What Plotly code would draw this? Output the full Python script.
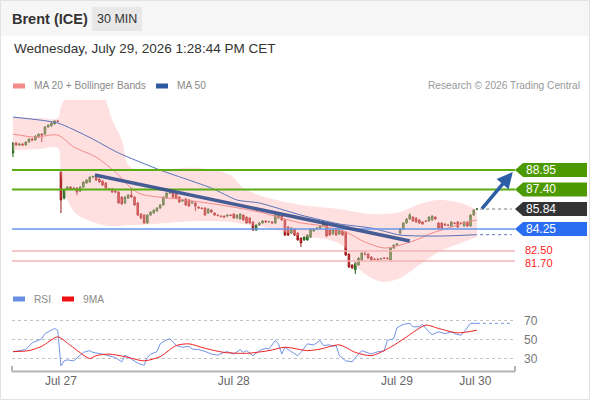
import plotly.graph_objects as go

FONT = "Arial, Liberation Sans, Helvetica, sans-serif"

# --- candles (30 min), index = bar number ---
opens = [90.29, 91.09, 90.93, 91.01, 90.93, 91.17, 91.41, 91.33, 91.56, 91.80, 91.80, 92.36, 92.44, 92.60, 92.84,
         88.78, 86.71, 87.43, 87.59, 87.51, 87.51, 87.27, 87.59, 87.91, 87.99, 88.38, 88.38, 88.22, 88.07, 87.91,
         87.43, 87.43, 87.27, 87.19, 86.79, 86.32, 86.71, 86.95, 86.79, 86.32, 85.44, 85.36, 84.73, 85.36, 85.52,
         85.68, 85.92, 86.16, 86.71, 87.11, 87.11, 87.03, 86.79, 86.48, 86.64, 86.56, 86.32, 86.32, 86.00, 85.92,
         85.92, 85.52, 85.76, 85.52, 85.36, 85.28, 85.28, 85.28, 85.36, 85.44, 85.12, 85.05, 85.36, 85.20, 85.12,
         84.81, 84.17, 84.57, 84.73, 84.89, 84.81, 84.81, 84.73, 85.12, 85.28, 84.97, 84.41, 83.93, 84.25, 83.93,
         83.53, 83.38, 83.38, 83.61, 84.09, 84.25, 84.33, 84.49, 84.65, 84.17, 83.85, 84.25, 83.85, 84.09,
         84.01, 82.26, 81.39, 81.02, 81.39, 81.79, 82.26, 82.26, 82.02, 81.86, 81.86, 81.86, 81.94, 81.94, 81.79,
         82.74, 82.98,
         83.93, 84.25, 84.73, 85.05, 85.20, 85.12, 84.97, 84.81, 84.89, 84.89, 84.97, 85.20, 84.73, 84.73, 84.65,
         84.57, 84.49, 84.73, 84.81, 84.73, 84.49, 84.81, 84.49, 85.36, 85.84]
highs = [91.15, 91.15, 91.08, 91.10, 91.22, 91.45, 91.48, 91.70, 91.86, 91.88, 92.42, 92.58, 92.74, 92.90, 92.92,
         88.86, 87.41, 87.66, 87.66, 87.58, 87.57, 87.65, 88.05, 88.22, 88.45, 88.50, 88.45, 88.28, 88.12, 87.98,
         87.52, 87.50, 87.34, 87.25, 86.86, 86.86, 87.02, 87.51, 86.85, 86.40, 85.50, 85.42, 85.42, 85.66, 85.82,
         85.98, 86.22, 86.86, 87.18, 87.22, 87.18, 87.10, 86.86, 86.62, 86.70, 86.62, 86.46, 86.38, 86.06, 85.98,
         85.98, 85.90, 85.82, 85.58, 85.42, 85.34, 85.34, 85.42, 85.42, 85.50, 85.42, 85.50, 85.42, 85.26, 85.18,
         84.87, 84.63, 84.79, 84.95, 84.95, 84.90, 84.88, 85.42, 85.44, 85.34, 85.03, 84.47, 84.39, 84.31, 83.99,
         83.59, 83.67, 83.83, 84.31, 84.31, 84.39, 84.55, 84.87, 84.71, 84.23, 84.23, 84.31, 84.23, 84.15,
         84.07, 82.32, 81.45, 81.61, 82.00, 82.40, 82.50, 82.32, 82.08, 81.92, 81.92, 81.96, 82.00, 82.00, 82.80,
         83.04, 83.14,
         84.31, 84.79, 85.11, 85.52, 85.26, 85.18, 85.03, 84.87, 84.95, 85.26, 85.34, 85.26, 84.79, 84.79, 84.71,
         84.63, 84.87, 84.79, 84.87, 84.79, 84.87, 84.87, 85.42, 85.82, 85.90]
lows = [89.97, 90.88, 90.85, 90.85, 90.88, 91.10, 91.25, 91.28, 91.50, 91.17, 91.74, 92.30, 92.40, 92.55, 92.74,
        85.52, 86.60, 87.38, 87.36, 87.42, 86.95, 87.20, 87.52, 87.85, 87.93, 88.30, 88.08, 87.92, 87.68, 87.45,
        87.32, 87.12, 87.10, 86.25, 86.18, 86.26, 86.64, 86.72, 86.10, 85.30, 85.05, 84.66, 84.66, 85.30, 85.46,
        85.62, 85.86, 86.10, 86.65, 87.04, 86.72, 86.64, 86.33, 86.42, 86.10, 86.02, 86.26, 85.68, 85.86, 85.82,
        85.30, 85.46, 85.54, 85.30, 85.26, 85.18, 85.14, 85.22, 85.27, 85.06, 85.06, 84.99, 84.91, 84.67, 84.67,
        84.11, 84.10, 84.51, 84.67, 84.75, 84.75, 84.67, 84.67, 85.06, 84.91, 83.71, 83.71, 83.87, 83.71, 83.32,
        82.82, 83.32, 83.32, 83.55, 84.03, 84.19, 84.27, 84.43, 83.63, 83.71, 83.79, 83.71, 83.79, 83.71,
        82.12, 81.17, 81.09, 80.67, 81.33, 81.73, 82.18, 81.88, 81.73, 81.78, 81.76, 81.80, 81.86, 81.84, 81.73,
        82.68, 82.92,
        83.77, 84.19, 84.67, 84.99, 84.83, 84.75, 84.67, 84.59, 84.80, 84.83, 84.91, 84.99, 84.27, 84.27, 84.51,
        84.48, 84.43, 84.64, 84.35, 84.64, 84.43, 84.43, 84.43, 85.30, 85.78]
closes = [91.09, 90.93, 91.01, 90.93, 91.17, 91.41, 91.33, 91.64, 91.80, 91.72, 92.36, 92.52, 92.68, 92.84, 92.80,
          86.56, 87.35, 87.59, 87.43, 87.48, 87.19, 87.59, 87.99, 88.15, 88.38, 88.42, 88.15, 87.99, 87.75, 87.51,
          87.40, 87.19, 87.19, 86.32, 86.24, 86.79, 86.95, 86.79, 86.16, 85.36, 85.12, 84.73, 85.36, 85.60, 85.76,
          85.92, 86.16, 86.79, 87.11, 87.14, 86.79, 86.71, 86.40, 86.56, 86.16, 86.08, 86.40, 86.08, 85.92, 85.88,
          85.36, 85.84, 85.60, 85.36, 85.32, 85.24, 85.20, 85.36, 85.33, 85.12, 85.36, 85.44, 84.97, 84.73, 84.73,
          84.17, 84.57, 84.73, 84.89, 84.81, 84.84, 84.73, 85.36, 85.36, 84.97, 83.77, 83.77, 84.33, 83.77, 83.38,
          83.14, 83.61, 83.77, 84.25, 84.25, 84.33, 84.49, 84.81, 83.69, 83.77, 84.17, 83.77, 84.17, 83.77,
          82.18, 81.23, 81.15, 81.55, 81.94, 82.34, 82.23, 81.94, 81.79, 81.84, 81.82, 81.90, 81.92, 81.90, 82.74,
          82.98, 83.06,
          84.25, 84.73, 85.05, 85.36, 84.89, 84.81, 84.73, 84.65, 84.86, 85.20, 85.28, 85.05, 84.33, 84.33, 84.57,
          84.54, 84.81, 84.70, 84.41, 84.70, 84.81, 84.49, 85.36, 85.76, 85.84]
bar_idx = list(range(len(closes)))

# --- MA 20 + Bollinger bands, MA 50 (read at sample bars) ---
ma20_idx = [0, 7, 14, 19, 26, 32, 37, 40, 54, 65, 77, 90, 95, 104, 110, 116, 120, 126, 131, 136, 141, 145]
ma20 = [91.80, 91.56, 91.72, 90.77, 89.97, 88.78, 87.51, 87.03, 86.56, 86.16, 85.60, 84.73, 84.57, 84.01,
        83.22, 82.74, 82.90, 83.38, 83.93, 84.33, 84.73, 84.97]
bb_idx = [0, 8, 14, 15, 17, 20, 28, 31, 34, 36, 39, 58, 68, 72, 80, 90, 99, 104, 107, 112, 116, 121, 127, 133, 140, 145]
bb_upper = [93.15, 93.07, 93.07, 94.00, 94.8, 94.8, 94.8, 92.92, 91.33, 89.34, 88.94, 89.10, 88.54, 87.51, 86.71,
            86.16, 85.92, 85.76, 85.60, 85.44, 85.44, 85.60, 86.24, 86.56, 86.32, 85.76]
bb_lower = [90.53, 90.61, 90.69, 88.54, 86.56, 85.40, 84.57, 84.49, 84.49, 84.57, 84.57, 84.89, 84.81, 84.65, 84.33,
            83.69, 83.38, 82.74, 81.39, 80.35, 80.04, 80.35, 81.39, 82.42, 83.14, 83.61]
ma50_idx = [0, 14, 24, 33, 46, 62, 70, 77, 90, 102, 112, 121, 133, 145]
ma50 = [93.15, 92.68, 91.53, 90.30, 88.94, 87.51, 86.56, 86.32, 85.36, 84.65, 84.33, 83.77, 83.69, 83.80]

# --- RSI and its 9MA ---
rsi_idx = [0, 3, 4, 6, 8, 9, 10, 11, 12, 13, 14, 15, 16, 17, 19, 21, 22, 24, 25, 28, 30, 32, 34, 35, 37, 39, 41,
           42, 43, 45, 46, 48, 49, 50, 51, 52, 53, 55, 56, 58, 60, 62, 64, 66, 67, 69, 71, 72, 73, 75, 77, 79, 80,
           82, 83, 84, 85, 87, 89, 90, 92, 94, 96, 97, 99, 100, 101, 102, 104, 106, 107, 109, 110, 112, 114, 116,
           117, 119, 120, 122, 124, 125, 127, 128, 130, 131, 133, 135, 137, 138, 140, 141, 143, 145]
rsi = [37.3, 38.4, 39.5, 46.7, 49.3, 51.0, 56.5, 58.4, 60.0, 62.0, 60.0, 22.0, 27.5, 28.5, 27.5, 33.0, 36.5, 38.4,
       36.5, 34.7, 33.0, 31.0, 26.4, 33.6, 29.3, 25.0, 22.7, 31.0, 34.7, 37.3, 45.6, 50.0, 51.0, 48.0, 43.8, 43.0,
       42.0, 43.0, 40.0, 39.5, 37.6, 34.7, 33.6, 36.5, 37.3, 34.7, 39.5, 36.5, 38.4, 33.0, 38.4, 41.0, 40.0, 49.3,
       45.6, 34.7, 42.0, 37.3, 33.0, 36.5, 45.6, 44.5, 49.3, 43.8, 44.5, 43.0, 43.8, 33.0, 27.5, 26.4, 31.0, 38.4,
       37.3, 34.7, 37.3, 38.0, 49.3, 51.0, 62.7, 66.4, 67.5, 63.8, 63.8, 66.4, 58.4, 55.5, 58.4, 56.5, 58.4, 56.5,
       54.7, 58.4, 67.5, 67.5]
ma9_idx = [0, 5, 9, 14, 18, 24, 26, 30, 35, 41, 46, 51, 55, 60, 66, 73, 80, 85, 92, 96, 102, 107, 112, 118, 123,
           129, 133, 139, 145]
ma9 = [37.3, 38.4, 43.0, 53.0, 43.8, 30.0, 33.0, 34.7, 32.0, 27.5, 32.0, 43.8, 45.6, 40.9, 36.5, 35.5, 38.4, 42.0,
       38.4, 40.0, 44.5, 36.5, 33.0, 42.0, 53.0, 65.6, 62.0, 57.3, 60.2]

# --- levels and labels ---
resistances = [88.95, 87.40]
last_price = 85.84
support_1 = 84.25
supports = [82.50, 81.70]
day_ticks = [15, 69, 120, 144.5]
day_labels = ["Jul 27", "Jul 28", "Jul 29", "Jul 30"]
rsi_ticks = [30, 50, 70]

# drawn trend line and target arrow (bar, price)
trend_start = (25.6, 88.54)
trend_end = (124, 83.30)
arrow_tail = (146.2, 85.76)
arrow_head = (156.2, 88.78)

X_RANGE = [-0.3, 156.9]


def px_x(x):
    return (x - 12) / 503


def px_y(y):
    return (372 - y) / 272


fig = go.Figure()

# bollinger band fill
fig.add_trace(go.Scatter(x=bb_idx, y=bb_upper, mode="lines", line=dict(width=0, shape="spline", smoothing=0.9),
                         hoverinfo="skip", xaxis="x", yaxis="y"))
fig.add_trace(go.Scatter(x=bb_idx, y=bb_lower, mode="lines", line=dict(width=0, shape="spline", smoothing=0.9),
                         fill="tonexty", fillcolor="rgba(255,180,180,0.42)", hoverinfo="skip",
                         xaxis="x", yaxis="y"))
fig.add_trace(go.Scatter(x=ma20_idx, y=ma20, mode="lines",
                         line=dict(color="#f38a8a", width=1, shape="spline", smoothing=0.8), xaxis="x", yaxis="y"))
fig.add_trace(go.Scatter(x=ma50_idx, y=ma50, mode="lines",
                         line=dict(color="#5573b8", width=1, shape="spline", smoothing=0.6), xaxis="x", yaxis="y"))
fig.add_trace(go.Scatter(x=[ma50_idx[-1] + 1, X_RANGE[1] - 1], y=[ma50[-1], ma50[-1]], mode="lines",
                         line=dict(color="#5573b8", width=1, dash="dot"), xaxis="x", yaxis="y"))
fig.add_trace(go.Scatter(x=[bar_idx[-1] + 1, X_RANGE[1] - 1], y=[closes[-1], closes[-1]], mode="lines",
                         line=dict(color="#777777", width=1, dash="dot"), xaxis="x", yaxis="y"))

fig.add_trace(go.Candlestick(
    x=bar_idx, open=opens, high=highs, low=lows, close=closes,
    increasing=dict(fillcolor="#3e9a36", line=dict(color="#24661f", width=1)),
    decreasing=dict(fillcolor="#e02828", line=dict(color="#9b1a1a", width=1)),
    whiskerwidth=0, xaxis="x", yaxis="y"))

# RSI panel
fig.add_trace(go.Scatter(x=rsi_idx, y=rsi, mode="lines", line=dict(color="#7393e6", width=1),
                         xaxis="x2", yaxis="y2"))
fig.add_trace(go.Scatter(x=[rsi_idx[-1], X_RANGE[1] - 1], y=[rsi[-1], rsi[-1]], mode="lines",
                         line=dict(color="#7393e6", width=1, dash="dot"), xaxis="x2", yaxis="y2"))
fig.add_trace(go.Scatter(x=ma9_idx, y=ma9, mode="lines",
                         line=dict(color="#f02020", width=1, shape="spline", smoothing=0.7),
                         xaxis="x2", yaxis="y2"))

shapes = []
annotations = []

# header band and page border
shapes.append(dict(type="rect", xref="paper", yref="paper", x0=px_x(0), x1=px_x(590), y0=px_y(36), y1=px_y(0),
                   fillcolor="#f6f6f6", line=dict(width=0), layer="below"))
shapes.append(dict(type="rect", xref="paper", yref="paper", x0=px_x(92), x1=px_x(142), y0=px_y(31), y1=px_y(7),
                   fillcolor="#e8e8e8", line=dict(width=0), layer="below"))
shapes.append(dict(type="rect", xref="paper", yref="paper", x0=px_x(0.5), x1=px_x(589.5), y0=px_y(399.5),
                   y1=px_y(0.5), line=dict(color="#e2e2e2", width=1), layer="below"))

# horizontal levels
for lv in resistances:
    shapes.append(dict(type="line", xref="paper", yref="y", x0=0, x1=1, y0=lv, y1=lv,
                       line=dict(color="#5aab14", width=2)))
shapes.append(dict(type="line", xref="paper", yref="y", x0=0, x1=1, y0=support_1, y1=support_1,
                   line=dict(color="#6796ea", width=1.5)))
for lv in supports:
    shapes.append(dict(type="line", xref="paper", yref="y", x0=0, x1=1, y0=lv, y1=lv,
                       line=dict(color="#f5b3b3", width=1.5)))

# trend line
shapes.append(dict(type="line", xref="x", yref="y", x0=trend_start[0], y0=trend_start[1],
                   x1=trend_end[0], y1=trend_end[1], line=dict(color="rgba(50,78,140,0.9)", width=3.5)))


def add_tag(level, color):
    h = 0.56
    path = (f"M {px_x(515)},{level} L {px_x(523)},{level + h} L {px_x(587)},{level + h} "
            f"L {px_x(587)},{level - h} L {px_x(523)},{level - h} Z")
    shapes.append(dict(type="path", xref="paper", yref="y", path=path, fillcolor=color, line=dict(width=0)))
    annotations.append(dict(xref="paper", yref="y", x=px_x(524), y=level, text=f"{level:.2f}",
                            showarrow=False, xanchor="left", yanchor="middle",
                            font=dict(color="white", size=12, family=FONT)))


for lv in resistances:
    add_tag(lv, "#4d9a00")
add_tag(last_price, "#333333")
add_tag(support_1, "#2a6df2")
for lv, shift in zip(supports, [1.5, -1.5]):
    annotations.append(dict(xref="paper", yref="y", x=px_x(524), y=lv, yshift=shift, text=f"{lv:.2f}",
                            showarrow=False, xanchor="left", yanchor="middle", borderpad=0,
                            font=dict(color="#ff2020", size=11, family=FONT)))

# target arrow
annotations.append(dict(xref="x", yref="y", axref="x", ayref="y", x=arrow_head[0], y=arrow_head[1],
                        ax=arrow_tail[0], ay=arrow_tail[1], text="", showarrow=True, arrowhead=2,
                        arrowsize=0.9, arrowwidth=3.5, arrowcolor="#2d5ea6"))

# bottom axis line with end ticks
shapes.append(dict(type="line", xref="paper", yref="paper", x0=0, x1=1, y0=px_y(371.5), y1=px_y(371.5),
                   line=dict(color="#b3b3b3", width=2)))
for xx in (12, 515):
    shapes.append(dict(type="line", xref="paper", yref="paper", x0=px_x(xx), x1=px_x(xx), y0=px_y(371.5),
                       y1=px_y(366), line=dict(color="#b3b3b3", width=2)))

# legends
legend_items = [
    (13, 86, "#f38b8b", "MA 20 + Bollinger Bands"),
    (156, 86, "#2d5aa0", "MA 50"),
    (13, 299, "#6a8ee6", "RSI"),
    (62, 299, "#ee1010", "9MA"),
]
for lx, ly, col, label in legend_items:
    shapes.append(dict(type="rect", xref="paper", yref="paper", x0=px_x(lx), x1=px_x(lx + 12),
                       y0=px_y(ly + 2.5), y1=px_y(ly - 2.5), fillcolor=col, line=dict(width=0)))
    annotations.append(dict(xref="paper", yref="paper", x=px_x(lx + 19), y=px_y(ly), text=label,
                            showarrow=False, xanchor="left", yanchor="middle",
                            font=dict(color="#8a8a8a", size=10.2, family=FONT)))

annotations.append(dict(xref="paper", yref="paper", x=px_x(582), y=px_y(86),
                        text="Research © 2026 Trading Central", showarrow=False, xanchor="right",
                        yanchor="middle", font=dict(color="#999999", size=10.2, family=FONT)))
annotations.append(dict(xref="paper", yref="paper", x=px_x(10), y=px_y(19), text="<b>Brent (ICE)</b>",
                        showarrow=False, xanchor="left", yanchor="middle",
                        font=dict(color="#333333", size=14.5, family=FONT)))
annotations.append(dict(xref="paper", yref="paper", x=px_x(117), y=px_y(19), text="30 MIN",
                        showarrow=False, xanchor="center", yanchor="middle",
                        font=dict(color="#333333", size=12.5, family=FONT)))
annotations.append(dict(xref="paper", yref="paper", x=px_x(12), y=px_y(48),
                        text="Wednesday, July 29, 2026 1:28:44 PM CET", showarrow=False, xanchor="left",
                        yanchor="middle", font=dict(color="#333333", size=13.5, family=FONT)))

fig.update_layout(
    width=590,
    height=400,
    margin=dict(l=12, r=75, t=100, b=28),
    paper_bgcolor="white",
    plot_bgcolor="white",
    showlegend=False,
    font=dict(family=FONT, size=12, color="#666666"),
    shapes=shapes,
    annotations=annotations,
    xaxis=dict(domain=[0, 1], range=X_RANGE, anchor="y", showticklabels=False, showgrid=False,
               zeroline=False, rangeslider=dict(visible=False), fixedrange=True),
    yaxis=dict(domain=[px_y(285), 1], range=[79.80, 94.51], showticklabels=False, showgrid=False,
               zeroline=False, fixedrange=True),
    xaxis2=dict(domain=[0, 1], range=X_RANGE, anchor="y2", tickvals=day_ticks, ticktext=day_labels,
                ticks="", showgrid=False, zeroline=False, tickfont=dict(color="#666666", size=12),
                fixedrange=True),
    yaxis2=dict(domain=[0, px_y(304)], range=[15.6, 88.1], anchor="x2", side="right", tickvals=rsi_ticks,
                ticks="", showgrid=True, gridcolor="#c4c4c4", griddash="dot", zeroline=False,
                ticklabelstandoff=8, tickfont=dict(color="#777777", size=12), fixedrange=True),
)

# page body has a default margin; remove it so the figure sits at the window origin
fig.write_html("out.html", config={"displayModeBar": False},
               post_script="document.body.style.margin='0';document.body.style.overflow='hidden';")
